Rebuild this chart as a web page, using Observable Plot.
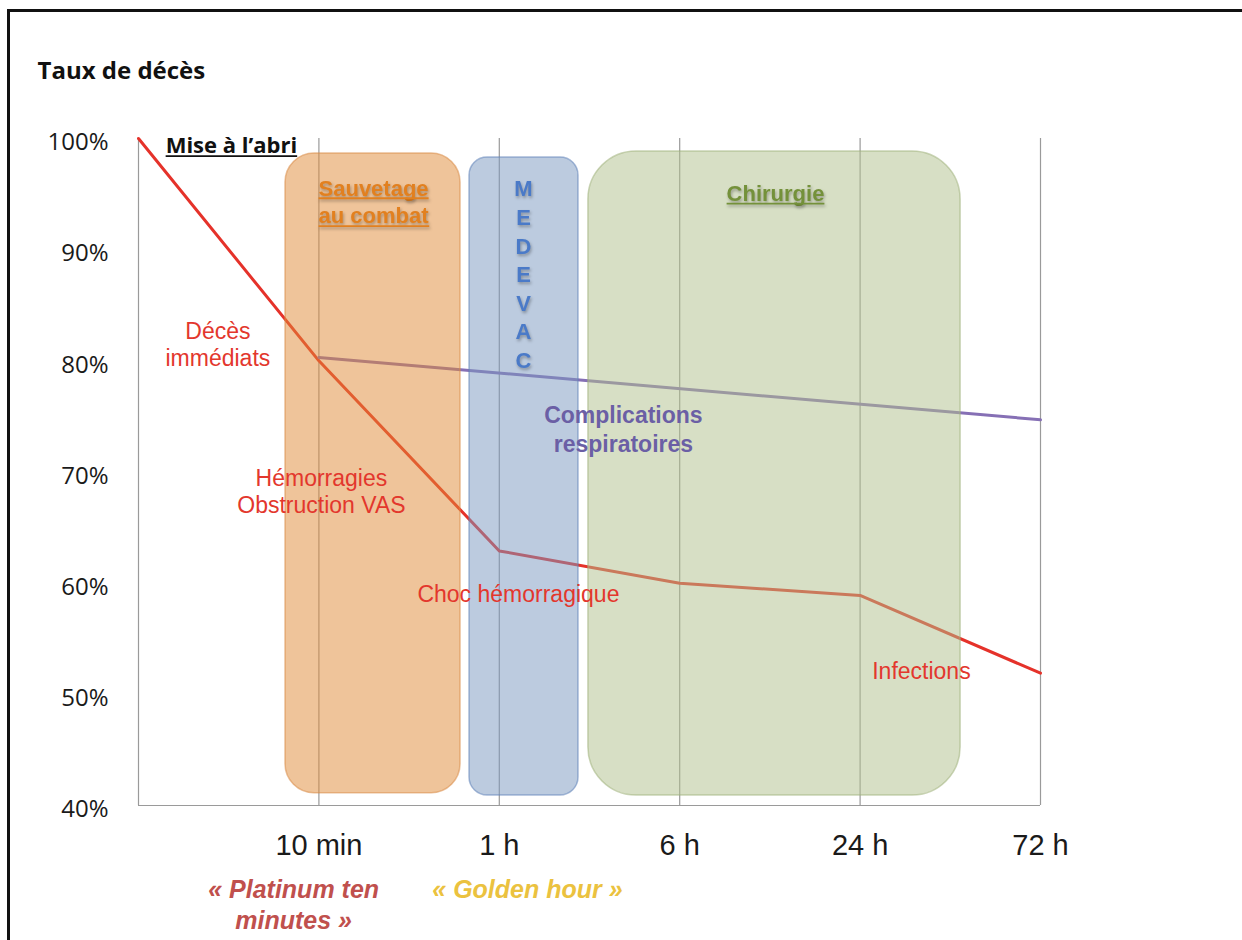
<!DOCTYPE html>
<html><head><meta charset="utf-8">
<script src="https://cdn.jsdelivr.net/npm/d3@7"></script>
<script src="https://cdn.jsdelivr.net/npm/@observablehq/plot@0.6"></script>
<style>
html,body{margin:0;padding:0;background:#fff;overflow:hidden;}
#wrap{position:relative;width:1242px;height:940px;}
#frame{position:absolute;left:7px;top:9px;width:1300px;height:1000px;border-top:3px solid #111;border-left:3px solid #111;pointer-events:none;}
</style></head><body><div id="wrap"><div id="chart"></div><div id="frame"></div></div>
<script>
// ---- data ----
const title = "Taux de décès";
const timeLabels = ["", "10 min", "1 h", "6 h", "24 h", "72 h"];
const timeIndex = [0, 1, 2, 3, 4, 5];
const immediateDeaths = [100, 80, 62.9, 60, 58.9, 51.9];
const respIndex = [1, 5];
const respValues = [80.3, 74.7];
const yTicks = [40, 50, 60, 70, 80, 90, 100];

const phaseNames = ["Sauvetage\nau combat", "M\nE\nD\nE\nV\nA\nC", "Chirurgie"];
const phaseStart = [0.815, 1.835, 2.494];
const phaseEnd = [1.785, 2.439, 4.557];
const phaseTop = [98.65, 98.29, 98.83];
const phaseBottom = [41.1, 40.9, 40.9];
const phaseLabelX = [1.303, 2.134, 3.531];
const phaseLabelY = [94.42, 87.9, 95.14];

const shelterLabel = "Mise à l’abri";
const shelterX = 0.515, shelterY = 99.3;

const causeLabels = ["Décès\nimmédiats", "Hémorragies\nObstruction VAS", "Choc hémorragique", "Infections"];
const causeX = [0.44, 1.014, 2.106, 4.34];
const causeY = [81.5, 68.3, 59.07, 52.15];

const respLabel = "Complications\nrespiratoires";
const respLabelX = 2.688, respLabelY = 73.96;

const footLabels = ["« Platinum ten\nminutes »", "« Golden hour »"];
const footX = [0.86, 2.156];
const footY = [31.2, 32.62];

// ---- styles ----
const phaseFill = ["#df8935", "#7997bf", "#afbf8b"];
const phaseStroke = ["#d88a45", "#5f82b8", "#9fb07a"];
const phaseRadius = [29, 18, 48];
const phaseTextColor = ["#e2801f", "#4a7ac8", "#74913a"];
const phaseFontSize = [22, 22, 22];
const phaseLineHeight = [1.27, 1.3, 1.2];
const footColor = ["#c0504d", "#ebc23f"];
const underlined = ["Sauvetage", "Chirurgie", "Mise à l’abri"];
const shadowed = ["Sauvetage", "Chirurgie", "MEDEVAC"];

const redRows = timeIndex.map((t, i) => ({t, v: immediateDeaths[i]}));
const respRows = respIndex.map((t, i) => ({t, v: respValues[i]}));
const phaseRows = phaseNames.map((n, i) => ({n, x1: phaseStart[i], x2: phaseEnd[i], y1: phaseBottom[i], y2: phaseTop[i], lx: phaseLabelX[i], ly: phaseLabelY[i]}));
const causeRows = causeLabels.map((n, i) => ({n, x: causeX[i], y: causeY[i]}));
const footRows = footLabels.map((n, i) => ({n, x: footX[i], y: footY[i]}));

const marks = [
  Plot.ruleX([1, 2, 3, 4, 5], {y1: 40, y2: 100, stroke: "#9a9a9a", strokeWidth: 1.2}),
  Plot.ruleX([0], {y1: 40, y2: 100, stroke: "#9a9a9a", strokeWidth: 1.2}),
  Plot.ruleY([40], {x1: 0, x2: 5, stroke: "#9a9a9a", strokeWidth: 1.2}),
  Plot.line(redRows, {x: "t", y: "v", stroke: "#e5322a", strokeWidth: 3}),
  Plot.line(respRows, {x: "t", y: "v", stroke: "#8670b5", strokeWidth: 3}),
  ...phaseRows.map((p, i) => Plot.rect([p], {x1: "x1", x2: "x2", y1: "y1", y2: "y2", fill: phaseFill[i], fillOpacity: 0.5, stroke: phaseStroke[i], strokeOpacity: 0.55, strokeWidth: 1.5, rx: phaseRadius[i]})),
  ...phaseRows.map((p, i) => Plot.text([p], {x: "lx", y: "ly", text: "n", fill: phaseTextColor[i], fontWeight: "bold", fontSize: phaseFontSize[i], lineHeight: phaseLineHeight[i], fontFamily: "Liberation Sans, Arial, sans-serif"})),
  Plot.text([shelterLabel], {x: shelterX, y: shelterY, text: d => d, fill: "#111", fontWeight: "bold", fontSize: 22, fontFamily: "Open Sans, sans-serif"}),
  Plot.text(causeRows, {x: "x", y: "y", text: "n", fill: "#e3372d", fontSize: 23, lineHeight: 1.17, fontFamily: "Liberation Sans, Arial, sans-serif"}),
  Plot.text([respLabel], {x: respLabelX, y: respLabelY, text: d => d, fill: "#6b5fa5", fontWeight: "bold", fontSize: 23, lineHeight: 1.25, fontFamily: "Liberation Sans, Arial, sans-serif"}),
  ...footRows.map((f, i) => Plot.text([f], {x: "x", y: "y", text: "n", fill: footColor[i], fontWeight: "bold", fontStyle: "italic", fontSize: 25, lineHeight: 1.25, fontFamily: "Liberation Sans, Arial, sans-serif"})),
  Plot.text([title], {frameAnchor: "top-left", dx: -101, dy: -77, lineAnchor: "top", textAnchor: "start", text: d => d, fill: "#111", fontWeight: "bold", fontSize: 24, fontFamily: "Open Sans, sans-serif"}),
  Plot.axisY({ticks: yTicks, tickFormat: d => d + "%", tickSize: 0, tickPadding: 30, fontSize: 24, fontFamily: "Open Sans, sans-serif", color: "#1a1a1a", dy: 4, label: null}),
  Plot.axisX({ticks: [1, 2, 3, 4, 5], tickFormat: i => timeLabels[i], tickSize: 0, tickPadding: 29, fontSize: 29, fontFamily: "Liberation Sans, Arial, sans-serif", color: "#1a1a1a", label: null})
];

const chart = Plot.plot({
  width: 1242,
  height: 940,
  marginLeft: 138,
  marginRight: 202,
  marginTop: 138,
  marginBottom: 135,
  x: {type: "linear", domain: [0, 5]},
  y: {type: "linear", domain: [40, 100]},
  style: {background: "#fff", fontFamily: "Liberation Sans, Arial, sans-serif", overflow: "visible"},
  marks
});
document.getElementById("chart").appendChild(chart);

// underline + shadow decorations (matched by text content)
const NS = "http://www.w3.org/2000/svg";
const allTexts = Array.from(chart.querySelectorAll("text"));
const fillOf = t => {
  let n = t;
  while (n && n !== chart) { const f = n.getAttribute && n.getAttribute("fill"); if (f) return f; n = n.parentNode; }
  return getComputedStyle(t).fill;
};
allTexts.forEach(t => {
  const content = t.textContent.replace(/\s+/g, "");
  const isShadow = shadowed.some(s => content.startsWith(s.replace(/\s+/g, "")));
  const isUnder = underlined.some(s => content.startsWith(s.replace(/\s+/g, "")));
  if (isShadow) t.setAttribute("style", (t.getAttribute("style") || "") + ";filter:drop-shadow(1px 2px 1.5px rgba(0,0,0,0.3))");
  if (!isUnder) return;
  const tspans = Array.from(t.querySelectorAll("tspan"));
  const parts = tspans.length ? tspans : [t];
  const fill = fillOf(t);
  parts.forEach(p => {
    let b;
    try { b = p.getBBox(); } catch (e) { return; }
    const ly = b.y + b.height * 0.81 + 2.5;
    const line = document.createElementNS(NS, "line");
    line.setAttribute("x1", b.x); line.setAttribute("x2", b.x + b.width);
    line.setAttribute("y1", ly); line.setAttribute("y2", ly);
    line.setAttribute("stroke", fill); line.setAttribute("stroke-width", 1.8);
    if (t.getAttribute("transform")) line.setAttribute("transform", t.getAttribute("transform"));
    if (isShadow) line.setAttribute("style", "filter:drop-shadow(1px 2px 1.5px rgba(0,0,0,0.3))");
    t.parentNode.appendChild(line);
  });
});
</script>
</body></html>
